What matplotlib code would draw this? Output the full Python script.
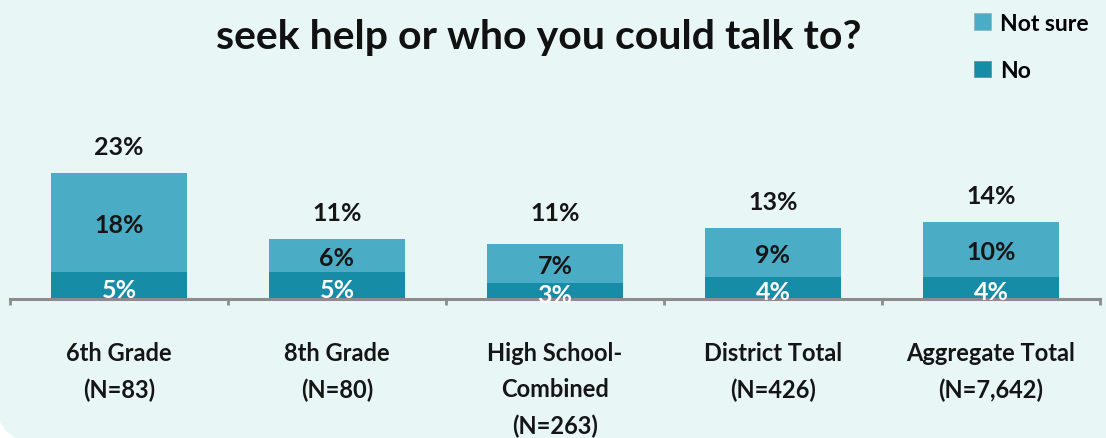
import matplotlib
matplotlib.use("Agg")
import matplotlib.pyplot as plt
from matplotlib.patches import Patch, Polygon

categories = ["6th Grade\n(N=83)", "8th Grade\n(N=80)", "High School-\nCombined\n(N=263)",
              "District Total\n(N=426)", "Aggregate Total\n(N=7,642)"]
no_vals = [5, 5, 3, 4, 4]
not_sure_vals = [18, 6, 7, 9, 10]
totals = [23, 11, 11, 13, 14]

BG = "#e8f6f6"
C_NOT_SURE = "#4bacc6"
C_NO = "#168ca6"
AXIS = "#8c8c8c"
TXT = "#151515"
FONT = "Lato"

plt.rcParams["font.family"] = [FONT, "DejaVu Sans"]
plt.rcParams["font.weight"] = "bold"

W, H = 1106, 439
fig = plt.figure(figsize=(W / 100, H / 100), dpi=100, facecolor=BG)

# rounded slide corner at the lower left
fig.patches.append(Polygon([(0, 0), (0, 16 / H), (5 / W, 8 / H), (15 / W, 0)],
                           closed=True, transform=fig.transFigure,
                           facecolor="white", edgecolor="none"))

ax = fig.add_axes([10 / W, 1 - 300 / H, 1090 / W, 200 / H], facecolor=BG)

x = list(range(len(categories)))
w = 0.62
ax.bar(x, no_vals, width=w, color=C_NO, zorder=2)
ax.bar(x, not_sure_vals, width=w, bottom=no_vals, color=C_NOT_SURE, zorder=2)

for xi, n, s, t in zip(x, no_vals, not_sure_vals, totals):
    ax.text(xi, n / 2 - 0.7, f"{n}%", ha="center", va="center", color="white",
            fontsize=18, fontweight="bold", zorder=3)
    ax.text(xi, n + s / 2 - 0.4, f"{s}%", ha="center", va="center", color=TXT,
            fontsize=18, fontweight="bold", zorder=3)
    ax.text(xi, t + 4.8, f"{t}%", ha="center", va="center", color=TXT,
            fontsize=18, fontweight="bold", zorder=3)

ax.set_xlim(-0.5, len(categories) - 0.5)
ax.set_ylim(0, 200 / 5.5)

for side in ("top", "right", "left"):
    ax.spines[side].set_visible(False)
ax.spines["bottom"].set_color(AXIS)
ax.spines["bottom"].set_linewidth(2.2)
ax.set_yticks([])

ax.set_xticks(x)
ax.set_xticklabels(categories, fontsize=17, fontweight="bold", color=TXT,
                   linespacing=1.7, va="top")
ax.tick_params(axis="x", which="major", length=0, pad=30)
ax.set_xticks([i - 0.5 for i in range(len(categories) + 1)], minor=True)
ax.tick_params(axis="x", which="minor", length=4, width=2, color=AXIS, direction="out")

fig.text(539 / W, 1 - 38 / H, "seek help or who you could talk to?", ha="center",
         va="center", fontsize=29.5, fontweight="bold", color="#111111")

handles = [Patch(facecolor=C_NOT_SURE, edgecolor="#8fb8c4", linewidth=0.6, label="Not sure"),
           Patch(facecolor=C_NO, edgecolor="#5f97a6", linewidth=0.6, label="No")]
fig.legend(handles=handles, loc="upper left", bbox_to_anchor=(953 / W, 1 + 7 / H),
           frameon=False, prop={"family": FONT, "weight": "bold", "size": 16.5},
           handlelength=0.75, handleheight=0.75, handletextpad=0.4, labelspacing=1.15)

fig.savefig("out.png", dpi=100, facecolor=BG)
